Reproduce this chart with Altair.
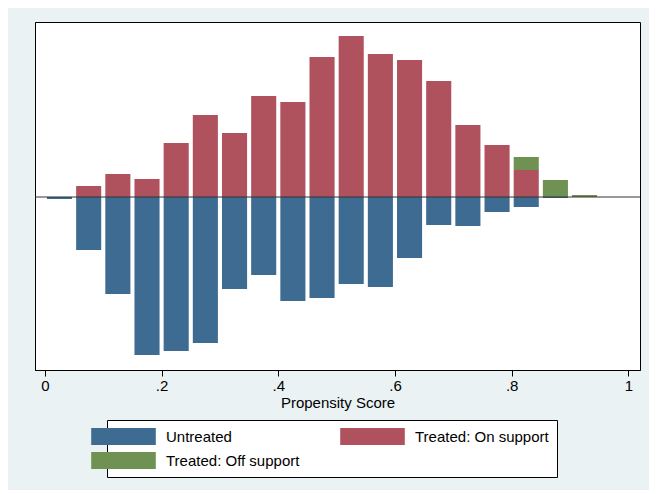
import altair as alt
import pandas as pd

# bin centres of the propensity score histogram (width .05)
centres = [0.025, 0.075, 0.125, 0.175, 0.225, 0.275, 0.325, 0.375, 0.425, 0.475,
           0.525, 0.575, 0.625, 0.675, 0.725, 0.775, 0.825, 0.875, 0.925]
on_support = [0, 11, 23, 18, 54, 82, 64, 101, 95, 140, 161, 143, 137, 116, 72, 52, 27, 0, 0]
off_support = [0, 0, 0, 0, 0, 0, 0, 0, 0, 0, 0, 0, 0, 0, 0, 0, 13, 17, 2]
untreated = [-2, -53, -97, -158, -154, -146, -92, -78, -104, -101, -87, -90, -61,
             -28, -29, -15, -10, -1, 0]

# legend is laid out column by column, so this order gives U | On / Off
groups = ["Untreated", "Treated: Off support", "Treated: On support"]
colors = ["#3d6b91", "#6f9152", "#b0525d"]

rows = []
for c, u, on, off in zip(centres, untreated, on_support, off_support):
    # untreated hangs below zero, treated stacks on-support then off-support
    segs = [("Untreated", 0, u), ("Treated: On support", 0, on),
            ("Treated: Off support", on, on + off)]
    for g, a, b in segs:
        if a != b:
            rows.append({"lo": c - 0.0215, "hi": c + 0.0215, "group": g, "y0": a, "y1": b})
df = pd.DataFrame(rows)

bars = alt.Chart(df).mark_bar().encode(
    x=alt.X("lo:Q", scale=alt.Scale(domain=[-0.017, 1.02], nice=False, zero=False),
            title="Propensity Score",
            axis=alt.Axis(values=[0, 0.2, 0.4, 0.6, 0.8, 1], grid=False,
                          labelExpr="datum.value==0?'0':datum.value==1?'1':replace(format(datum.value,'.1f'),'0.','.')",
                          labelFontSize=15, titleFontSize=15, titleFontWeight="normal",
                          titlePadding=2, labelColor="black", titleColor="black",
                          tickColor="black", domainColor="black", tickSize=6)),
    x2="hi:Q",
    y=alt.Y("y0:Q", scale=alt.Scale(domain=[-173, 175], nice=False),
            axis=alt.Axis(labels=False, ticks=False, grid=False, title=None,
                          domainColor="black")),
    y2="y1:Q",
    color=alt.Color("group:N", sort=groups, scale=alt.Scale(domain=groups, range=colors),
                    legend=alt.Legend(title=None, orient="none", legendX=72, legendY=398,
                                      columns=2, columnPadding=40, rowPadding=7,
                                      strokeColor="black", fillColor="white", padding=8,
                                      symbolType="M-3.8,-1H3.8V1H-3.8Z",
                                      symbolSize=289, symbolStrokeWidth=0, symbolOpacity=1,
                                      labelFontSize=15, labelColor="black", labelLimit=300,
                                      labelOffset=34)),
)

zero = alt.Chart(pd.DataFrame({"y": [0]})).mark_rule(color="#333", strokeWidth=1).encode(y="y:Q")

chart = (bars + zero).properties(
    width=605, height=348, background="#eaf2f4",
    padding={"left": 27, "top": 14, "right": 9, "bottom": 120},
    autosize=alt.AutoSizeParams(type="none"),
).configure(font="Liberation Sans").configure_view(fill="white", stroke="black")

chart.save("out.html", embed_options={"renderer": "svg", "actions": False})
